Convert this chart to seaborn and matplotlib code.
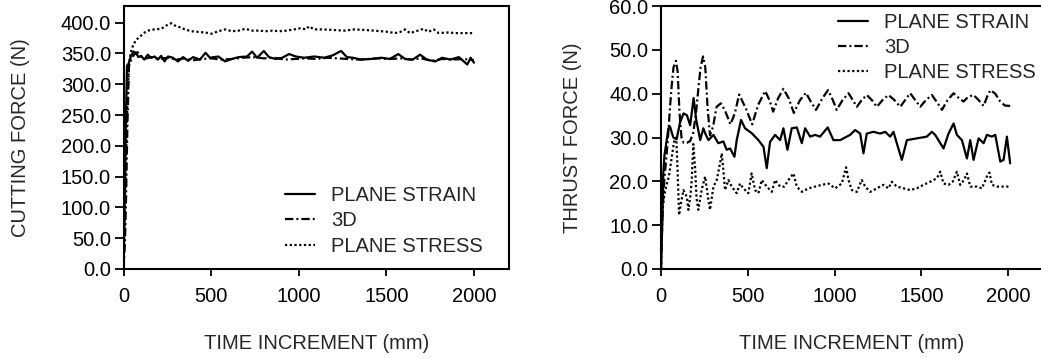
import numpy as np
import pandas as pd
import matplotlib
matplotlib.use("Agg")
import matplotlib.pyplot as plt
from matplotlib.lines import Line2D
from matplotlib.ticker import FormatStrFormatter, FixedLocator
import seaborn as sns

# ---- Cutting force (N) vs time increment ----
cut_strain_t = [0, 5, 10, 15, 20, 30, 42, 57, 71, 85, 100, 119, 138, 157, 177,
                196, 215, 234, 254, 282, 311, 340, 369, 397, 436, 468, 493, 541,
                580, 618, 657, 705, 734, 762, 801, 830, 868, 906, 945, 983, 1031,
                1088, 1146, 1195, 1242, 1275, 1309, 1357, 1410, 1472, 1520, 1568,
                1607, 1650, 1693, 1731, 1779, 1818, 1866, 1914, 1962, 1981, 2000]
cut_strain_f = [0, 80, 170, 260, 330, 334, 345, 353, 351, 344, 346, 340, 348, 343,
                345, 340, 346, 337, 345, 343, 337, 344, 338, 344, 340, 351, 343,
                345, 337, 341, 344, 345, 353, 343, 354, 344, 341, 343, 349, 345,
                343, 345, 343, 347, 354, 344, 343, 340, 341, 343, 341, 349, 341,
                340, 348, 340, 337, 343, 340, 344, 332, 343, 335]

cut_3d_t = [0, 8, 15, 22, 31, 45, 60, 80, 100, 130, 160, 200, 250, 300, 350, 400,
            450, 500, 560, 620, 680, 740, 800, 860, 920, 980, 1040, 1100, 1160,
            1220, 1280, 1340, 1400, 1460, 1520, 1580, 1640, 1700, 1760, 1820,
            1880, 1940, 2000]
cut_3d_f = [0, 40, 120, 230, 329, 340, 348, 352, 345, 342, 344, 341, 343, 340,
            342, 339, 341, 342, 340, 341, 343, 344, 342, 343, 340, 341, 342, 341,
            343, 342, 341, 340, 341, 342, 341, 342, 340, 342, 338, 341, 340, 341,
            339]

cut_stress_t = [0, 5, 12, 20, 30, 40, 52, 71, 90, 115, 138, 177, 215, 254, 273,
                301, 330, 349, 388, 426, 465, 503, 541, 580, 618, 657, 695, 734,
                772, 810, 850, 890, 930, 973, 1011, 1040, 1059, 1088, 1140, 1200,
                1260, 1319, 1380, 1430, 1472, 1510, 1549, 1580, 1607, 1635, 1670,
                1712, 1740, 1770, 1799, 1850, 1900, 1950, 2000]
cut_stress_f = [0, 60, 150, 250, 330, 350, 361, 372, 376, 383, 387, 389, 390, 397,
                399, 394, 392, 389, 386, 385, 384, 382, 386, 389, 386, 387, 390,
                387, 387, 386, 387, 386, 387, 389, 391, 389, 394, 389, 389, 388,
                387, 389, 388, 387, 386, 385, 383, 385, 389, 383, 386, 390, 385,
                389, 383, 384, 383, 383, 383]

# ---- Thrust force (N) vs time increment ----
thr_strain_t = [0, 8, 13, 20, 33, 42, 52, 63, 71, 90, 110, 130, 149, 168, 188,
                203, 226, 244, 255, 273, 302, 330, 359, 378, 398, 423, 436, 461,
                484, 522, 561, 590, 609, 628, 657, 686, 705, 728, 753, 782, 811,
                830, 859, 888, 916, 960, 993, 1032, 1089, 1118, 1147, 1166, 1185,
                1224, 1262, 1291, 1320, 1339, 1358, 1387, 1416, 1473, 1531, 1560,
                1579, 1627, 1656, 1685, 1704, 1733, 1762, 1781, 1800, 1829, 1858,
                1877, 1906, 1925, 1954, 1973, 1992, 2011]
thr_strain_f = [0, 12, 21.8, 26, 29.4, 32, 32.5, 31, 30, 29.6, 33.5, 35.5, 35.1,
                32.8, 39, 34, 29.4, 32.1, 30.9, 29.4, 30.6, 28.7, 29.1, 27.2, 27.5,
                25.6, 29.4, 34, 32.1, 31, 29.4, 27.9, 23, 29, 30.6, 29.4, 32.1,
                27.2, 32.1, 32.3, 28.7, 32.1, 30.2, 30.6, 30.2, 32.3, 29.4, 29.4,
                30.6, 31.7, 30.9, 26.4, 30.9, 31.3, 30.9, 31.3, 30.2, 31.3, 28.7,
                24.9, 29.4, 29.8, 30.2, 31.3, 30.6, 27.5, 30.9, 33.2, 30.6, 29.4,
                25.2, 29.4, 24.9, 29.8, 28.7, 30.6, 30.2, 30.6, 24.5, 24.9, 30.2,
                24.1]

thr_3d_t = [0, 10, 20, 30, 42, 52, 62, 72, 86, 96, 106, 118, 130, 150, 168, 185,
            200, 215, 228, 242, 255, 268, 282, 300, 320, 345, 370, 400, 425, 450,
            490, 525, 560, 600, 625, 646, 675, 705, 735, 765, 800, 835, 865, 893,
            930, 962, 990, 1012, 1045, 1080, 1105, 1128, 1155, 1185, 1215, 1243,
            1275, 1310, 1345, 1378, 1405, 1435, 1465, 1493, 1525, 1560, 1590,
            1618, 1650, 1685, 1715, 1742, 1770, 1800, 1830, 1858, 1880, 1897,
            1925, 1954, 1980, 2011]
thr_3d_f = [0, 14, 21, 25, 31, 37, 42, 46, 47.5, 45, 36, 30, 28.8, 28.8, 29.2,
            31, 35, 41, 46, 48.5, 46, 37, 30.5, 32.5, 37, 37.8, 36, 33, 35.5,
            39.8, 36.5, 33, 37.5, 40.6, 38.5, 35.9, 39, 41.1, 39, 35.6, 38.5,
            40.2, 38, 36.3, 39, 40.8, 38.5, 36.3, 38.5, 40.1, 38.5, 37.0, 38.5,
            39.7, 38.5, 37.0, 38.5, 39.7, 38.5, 37.0, 38.5, 40.1, 38.5, 37.0,
            38.5, 39.7, 38, 36.3, 38.5, 40.1, 39, 38.2, 39.3, 39.7, 38.5, 37.2,
            39.5, 40.8, 40, 38.2, 37.3, 37.2]

thr_stress_t = [0, 5, 10, 20, 30, 45, 60, 75, 88, 96, 104, 115, 129, 148, 158,
                170, 177, 186, 196, 205, 215, 234, 254, 273, 282, 302, 321, 340,
                350, 359, 369, 388, 407, 436, 455, 474, 503, 522, 542, 561, 580,
                609, 638, 657, 686, 710, 734, 763, 782, 811, 849, 888, 926, 964,
                1003, 1041, 1066, 1080, 1099, 1128, 1156, 1176, 1205, 1243, 1281,
                1310, 1329, 1358, 1397, 1435, 1473, 1512, 1550, 1589, 1608, 1627,
                1656, 1680, 1704, 1723, 1745, 1762, 1781, 1819, 1848, 1877, 1892,
                1906, 1935, 1970, 2011]
thr_stress_f = [0, 9, 14, 17, 19, 21, 25, 29, 30, 22, 12.3, 15, 18, 16.5, 13.5,
                17, 20.3, 28.5, 23.3, 16, 13.5, 18, 21.1, 15.7, 13.5, 18.8, 20.3,
                24.1, 26.4, 22.6, 18, 20.3, 18.8, 17.3, 19.5, 18.4, 17.3, 21.8, 18,
                17.3, 20.3, 18.8, 17.6, 20.3, 18.8, 18.8, 20.3, 21.8, 18.8, 17.6,
                18.4, 18.8, 19.2, 19.5, 18.4, 19.5, 23.2, 20.3, 18, 17.6, 20.3,
                18.8, 17.6, 18.4, 19.2, 18.4, 19.9, 18.8, 18.4, 18, 18.4, 19.2,
                19.9, 20.7, 22.2, 19.5, 19.2, 19.9, 22.2, 19.2, 20.3, 21.8, 18.8,
                18.8, 18.4, 21.1, 22, 19.2, 18.8, 18.8, 18.8]

series_labels = ["PLANE STRAIN", "3D", "PLANE STRESS"]
x_ticks = [0, 500, 1000, 1500, 2000]
x_label = "TIME INCREMENT (mm)"

sns.set_style("ticks")
plt.rcParams["font.family"] = ["Liberation Sans", "DejaVu Sans"]
plt.rcParams["lines.scale_dashes"] = False

FS = 14.5
LW = 1.6
styles = ["-", (0, (6.0, 2.2, 1.4, 2.2)), (0, (1.6, 1.8))]

fig = plt.figure(figsize=(10.41, 3.58), dpi=100)
W, H = 1041, 358
ax1 = fig.add_axes([123.5 / W, (H - 269) / H, (509 - 123.5) / W, 263 / H])
ax2 = fig.add_axes([661 / W, (H - 269) / H, 382 / W, 263 / H])


def draw(ax, data):
    for (t, f), ls in zip(data, styles):
        df = pd.DataFrame({"t": t, "f": f})
        n = len(ax.lines)
        sns.lineplot(data=df, x="t", y="f", ax=ax, color="black", lw=LW,
                     estimator=None, sort=False, legend=False)
        ax.lines[n].set_linestyle(ls)


draw(ax1, [(cut_strain_t, cut_strain_f), (cut_3d_t, cut_3d_f),
           (cut_stress_t, cut_stress_f)])
draw(ax2, [(thr_strain_t, thr_strain_f), (thr_3d_t, thr_3d_f),
           (thr_stress_t, thr_stress_f)])

ax1.set_xlim(0, 2200)
ax1.set_ylim(0, 427)
ax1.yaxis.set_major_locator(FixedLocator(np.arange(0, 401, 50)))
ax1.set_ylabel("CUTTING FORCE (N)", fontsize=FS, labelpad=22)

ax2.set_xlim(0, 2200)
ax2.set_ylim(0, 60)
ax2.yaxis.set_major_locator(FixedLocator(np.arange(0, 61, 10)))
ax2.set_ylabel("THRUST FORCE (N)", fontsize=FS, labelpad=20)

handles = [Line2D([], [], color="black", lw=LW, linestyle=ls) for ls in styles]

for ax, anchor in [(ax1, (0.418, 0.316)), (ax2, (0.463, 0.975))]:
    ax.xaxis.set_major_locator(FixedLocator(x_ticks))
    ax.yaxis.set_major_formatter(FormatStrFormatter("%.1f"))
    ax.set_xlabel(x_label, fontsize=FS, labelpad=20)
    ax.tick_params(axis="both", labelsize=FS, direction="out", width=1.3,
                   color="black", labelcolor="black")
    ax.tick_params(axis="x", length=5, pad=8)
    ax.tick_params(axis="y", length=6.5, pad=2.5)
    for sp in ax.spines.values():
        sp.set_visible(True)
        sp.set_linewidth(1.5)
        sp.set_color("black")
    ax.legend(handles, series_labels, loc="upper left", bbox_to_anchor=anchor,
              frameon=False, fontsize=FS, handlelength=1.5, handletextpad=0.8,
              labelspacing=0.32, borderpad=0, borderaxespad=0)

fig.savefig("out.png", dpi=100)
